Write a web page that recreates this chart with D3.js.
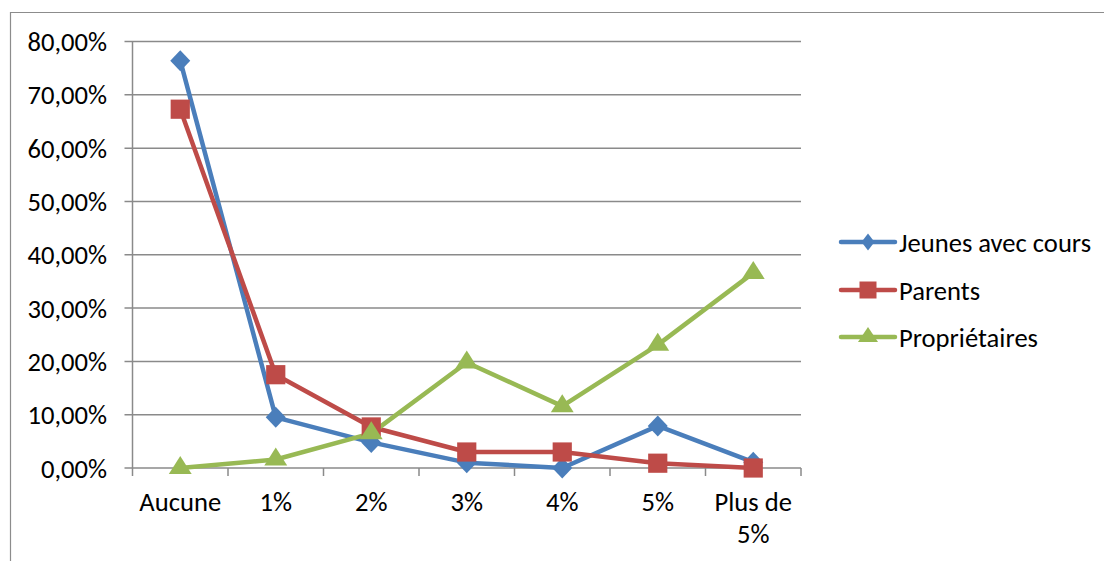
<!DOCTYPE html>
<html><head><meta charset="utf-8">
<script src="https://cdn.jsdelivr.net/npm/d3@7"></script>
<style>html,body{margin:0;padding:0;background:#fff;}svg{display:block;}</style>
</head><body>
<script>
const categories = ["Aucune", "1%", "2%", "3%", "4%", "5%", "Plus de 5%"];
const jeunes = [76.4, 9.5, 4.8, 1.0, 0.0, 7.9, 1.1];
const parents = [67.3, 17.5, 7.7, 3.0, 3.0, 0.9, 0.0];
const proprietaires = [0.0, 1.6, 6.5, 19.8, 11.6, 23.1, 36.6];
const yTicks = [0, 10, 20, 30, 40, 50, 60, 70, 80];
const seriesNames = ["Jeunes avec cours", "Parents", "Propriétaires"];
const seriesColors = ["#4A7EBB", "#BE4B48", "#98B954"];
const seriesShapes = ["diamond", "square", "triangle"];
const series = [jeunes, parents, proprietaires];

(function(){
const W = 1104, H = 561;
const svg = d3.select("body").append("svg").attr("width", W).attr("height", H);
const font = "Calibri, Carlito, Lato, 'Liberation Sans', sans-serif";
const fs = 26.6;

svg.append("path").attr("d", `M10.5,${H+5} V12.5 H${W+5}`).attr("fill","none").attr("stroke","#8c8c8c").attr("stroke-width",1.2);

const pLeft = 132.5, pRight = 801, pTop = 41.5, pBottom = 468;
const x = d3.scaleBand().domain(categories).range([pLeft, pRight]);
const y = d3.scaleLinear().domain([0, 80]).range([pBottom, pTop]);

svg.append("g").selectAll("line").data(yTicks).join("line")
  .attr("x1", pLeft - 8).attr("x2", pRight)
  .attr("y1", d => y(d)).attr("y2", d => y(d))
  .attr("stroke", "#8a8a8a").attr("stroke-width", 1.5);

svg.append("line").attr("x1", pLeft).attr("x2", pLeft).attr("y1", pTop).attr("y2", pBottom)
  .attr("stroke", "#8a8a8a").attr("stroke-width", 1.5);

svg.append("g").selectAll("text").data(yTicks).join("text")
  .attr("x", 107).attr("y", d => y(d)).attr("dy", "0.36em")
  .attr("text-anchor", "end").attr("font-family", font).attr("font-size", fs).attr("fill", "#000")
  .text(d => d.toFixed(2).replace(".", ",") + "%");

const tickXs = categories.map(c => x(c)).concat([pRight]);
svg.append("g").selectAll("line").data(tickXs).join("line")
  .attr("x1", d => d).attr("x2", d => d).attr("y1", pBottom).attr("y2", pBottom + 8)
  .attr("stroke", "#8a8a8a").attr("stroke-width", 1.5);

const xl = svg.append("g").selectAll("text").data(categories).join("text")
  .attr("x", d => x(d) + x.bandwidth()/2).attr("y", 511)
  .attr("text-anchor", "middle").attr("font-family", font).attr("font-size", fs).attr("fill", "#000");
xl.each(function(d) {
  const t = d3.select(this);
  if (d === "Plus de 5%") {
    t.append("tspan").attr("x", x(d) + x.bandwidth()/2).text("Plus de");
    t.append("tspan").attr("x", x(d) + x.bandwidth()/2).attr("dy", 32).text("5%");
  } else t.text(d);
});

// marker shapes (unit shapes scaled by transform)
const shapePath = {
  diamond: "M0,-1L1,0L0,1L-1,0Z",
  square: "M-1,-1H1V1H-1Z",
  triangle: "M0,-2L1.732,1H-1.732Z"
};
const plotScale = {diamond: "scale(10,10.5)", square: "scale(9.6)", triangle: "scale(6.6,6)"};
const legScale = {diamond: "scale(6.5,8.5)", square: "scale(8.5)", triangle: "scale(5.8,5)"};

const line = d3.line().x((d, i) => x(categories[i]) + x.bandwidth()/2).y(d => y(d));

series.forEach((vals, si) => {
  svg.append("path").datum(vals).attr("d", line).attr("fill", "none")
    .attr("stroke", seriesColors[si]).attr("stroke-width", 4.5).attr("stroke-linejoin", "round");
});
series.forEach((vals, si) => {
  const sh = seriesShapes[si];
  svg.append("g").selectAll("path").data(vals).join("path")
    .attr("transform", (d, i) => `translate(${x(categories[i]) + x.bandwidth()/2},${y(d)}) ${plotScale[sh]}`)
    .attr("d", shapePath[sh])
    .attr("fill", seriesColors[si]);
});

const legY = [242, 290, 337];
seriesNames.forEach((n, i) => {
  const sh = seriesShapes[i];
  const g = svg.append("g").attr("transform", `translate(0,${legY[i]})`);
  g.append("line").attr("x1", 841).attr("x2", 895).attr("y1", 0).attr("y2", 0)
    .attr("stroke", seriesColors[i]).attr("stroke-width", 4.5).attr("stroke-linecap", "round");
  g.append("path").attr("transform", `translate(868,0) ${legScale[sh]}`)
    .attr("d", shapePath[sh])
    .attr("fill", seriesColors[i]);
  g.append("text").attr("x", 899).attr("y", 0).attr("dy", "0.36em")
    .attr("font-family", font).attr("font-size", fs).attr("fill", "#000").text(n);
});
})();
</script>
</body></html>
